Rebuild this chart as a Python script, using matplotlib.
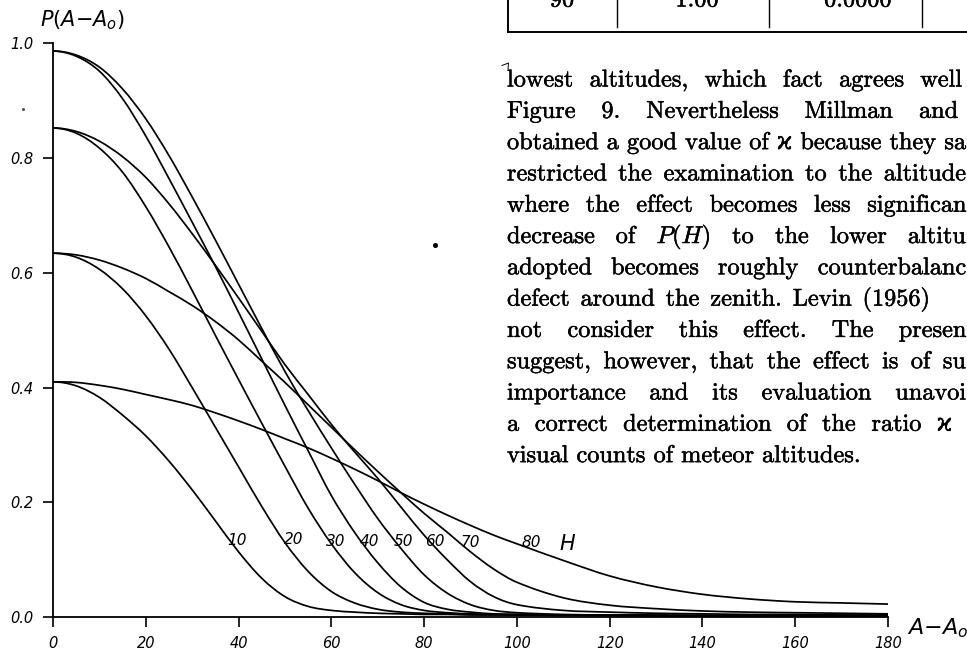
import matplotlib
matplotlib.use("Agg")
import matplotlib.pyplot as plt
import matplotlib.patheffects as pe
from matplotlib.lines import Line2D
from matplotlib.path import Path
from matplotlib.patches import PathPatch

# ---------------------------------------------------------------
# Data: P(A - A0) against azimuth difference, one curve per height H
# ---------------------------------------------------------------

azimuth = [0, 5, 10, 15, 20, 25, 30, 35, 40, 45, 50, 55, 60, 65, 70, 75,
           80, 85, 90, 95, 100, 110, 120, 130, 140, 150, 160, 170, 180]

p_h10 = [0.410, 0.403, 0.383, 0.352, 0.316, 0.272, 0.222, 0.168, 0.114, 0.068,
         0.036, 0.019, 0.012, 0.009, 0.007, 0.006, 0.005, 0.005, 0.004, 0.004,
         0.004, 0.003, 0.003, 0.003, 0.002, 0.002, 0.002, 0.002, 0.002]
p_h20 = [0.634, 0.627, 0.606, 0.572, 0.525, 0.467, 0.400, 0.331, 0.262, 0.193,
         0.130, 0.080, 0.045, 0.025, 0.014, 0.009, 0.007, 0.006, 0.005, 0.005,
         0.004, 0.004, 0.003, 0.003, 0.003, 0.002, 0.002, 0.002, 0.002]
p_h30 = [0.852, 0.843, 0.817, 0.775, 0.715, 0.645, 0.569, 0.491, 0.414, 0.338,
         0.263, 0.190, 0.128, 0.078, 0.043, 0.022, 0.012, 0.008, 0.006, 0.005,
         0.005, 0.004, 0.004, 0.003, 0.003, 0.003, 0.003, 0.003, 0.003]
p_h40 = [0.986, 0.977, 0.951, 0.903, 0.838, 0.764, 0.688, 0.611, 0.531, 0.450,
         0.369, 0.290, 0.212, 0.148, 0.095, 0.053, 0.026, 0.014, 0.009, 0.006,
         0.005, 0.004, 0.004, 0.003, 0.003, 0.003, 0.003, 0.003, 0.003]
p_h50 = [0.986, 0.979, 0.958, 0.920, 0.868, 0.804, 0.732, 0.657, 0.580, 0.503,
         0.428, 0.360, 0.295, 0.232, 0.172, 0.120, 0.074, 0.042, 0.022, 0.012,
         0.008, 0.005, 0.004, 0.004, 0.003, 0.003, 0.003, 0.003, 0.003]
p_h60 = [0.852, 0.846, 0.829, 0.802, 0.766, 0.720, 0.668, 0.613, 0.556, 0.498,
         0.440, 0.388, 0.336, 0.288, 0.242, 0.192, 0.143, 0.100, 0.062, 0.036,
         0.022, 0.012, 0.009, 0.007, 0.006, 0.005, 0.005, 0.004, 0.004]
p_h70 = [0.634, 0.631, 0.622, 0.608, 0.590, 0.567, 0.543, 0.515, 0.483, 0.446,
         0.409, 0.370, 0.331, 0.292, 0.254, 0.217, 0.181, 0.148, 0.114, 0.084,
         0.061, 0.034, 0.021, 0.015, 0.011, 0.009, 0.008, 0.007, 0.006]
p_h80 = [0.410, 0.409, 0.404, 0.397, 0.388, 0.379, 0.369, 0.356, 0.342, 0.327,
         0.311, 0.295, 0.277, 0.258, 0.238, 0.217, 0.197, 0.178, 0.160, 0.143,
         0.128, 0.099, 0.072, 0.053, 0.040, 0.032, 0.027, 0.025, 0.023]

curves = [p_h10, p_h20, p_h30, p_h40, p_h50, p_h60, p_h70, p_h80]
height_labels = ["10", "20", "30", "40", "50", "60", "70", "80"]

x_ticks = [0, 20, 40, 60, 80, 100, 120, 140, 160, 180]
y_ticks = [0.0, 0.2, 0.4, 0.6, 0.8, 1.0]

# where the height numbers sit next to their curves (data coords)
label_x = [39.6, 51.8, 60.9, 68.3, 75.6, 82.3, 90.0, 103.1]
label_y = [0.134, 0.135, 0.132, 0.132, 0.132, 0.132, 0.131, 0.130]

# running text of the page, one entry per printed line (as far as the page shows)
page_lines = [
    "lowest altitudes, which fact agrees well",
    "Figure 9. Nevertheless Millman and",
    "obtained a good value of ϰ because they sa",
    "restricted the examination to the altitude",
    "where the effect becomes less significan",
    "decrease of $P(H)$ to the lower altitu",
    "adopted becomes roughly counterbalanc",
    "defect around the zenith. Levin (1956)",
    "not consider this effect. The presen",
    "suggest, however, that the effect is of su",
    "importance and its evaluation unavoi",
    "a correct determination of the ratio ϰ",
    "visual counts of meteor altitudes.",
]
# right end (pixels) of the last word on each justified line
line_end_px = [962, 958, 966, 966, 966, 966, 966, 930, 966, 966, 966, 952, None]

table_cells = ["90", "1.00", "0.0000"]

# ---------------------------------------------------------------
# Figure
# ---------------------------------------------------------------

W, H = 967, 655
DPI = 100
SERIF = ["cmr10", "DejaVu Serif", "DejaVu Sans"]
TEXT_SIZE = 17.5
INK = [pe.withStroke(linewidth=0.35, foreground="black")]


def fx(px):
    return px / W


def fy(py):
    return 1 - py / H


def smooth_path(xs, ys):
    """Cubic Bezier path through the points (Hermite tangents)."""
    n = len(xs)
    slopes = []
    for i in range(n):
        if i == 0:
            slopes.append(0.0)
        elif i == n - 1:
            slopes.append((ys[i] - ys[i - 1]) / (xs[i] - xs[i - 1]))
        else:
            slopes.append((ys[i + 1] - ys[i - 1]) / (xs[i + 1] - xs[i - 1]))
    verts = [(xs[0], ys[0])]
    codes = [Path.MOVETO]
    for i in range(n - 1):
        h = (xs[i + 1] - xs[i]) / 3
        verts += [(xs[i] + h, ys[i] + slopes[i] * h),
                  (xs[i + 1] - h, ys[i + 1] - slopes[i + 1] * h),
                  (xs[i + 1], ys[i + 1])]
        codes += [Path.CURVE4] * 3
    return Path(verts, codes)


fig = plt.figure(figsize=(W / DPI, H / DPI), dpi=DPI)
ax = fig.add_axes([fx(53), fy(617.3), 835 / W, 574.3 / H])

for p in curves:
    ax.add_patch(PathPatch(smooth_path(azimuth, p), fill=False,
                           edgecolor="black", lw=1.25, clip_on=False))

for lab, lx, ly in zip(height_labels, label_x, label_y):
    ax.text(lx, ly, lab, fontsize=11, fontstyle="italic",
            ha="center", va="center")
ax.text(110.9, 0.127, "H", fontsize=15, fontstyle="italic",
        ha="center", va="center")

ax.set_xlim(0, 180)
ax.set_ylim(0, 1)
ax.set_xticks(x_ticks)
ax.set_xticklabels([str(t) for t in x_ticks], fontstyle="italic", fontsize=10.5)
ax.set_yticks(y_ticks)
ax.set_yticklabels([f"{t:.1f}" for t in y_ticks], fontstyle="italic",
                   fontsize=10.5)
ax.tick_params(axis="both", direction="out", length=7.2, width=1.2)
ax.tick_params(axis="x", pad=6.5)
ax.tick_params(axis="y", pad=7)
for side in ["top", "right"]:
    ax.spines[side].set_visible(False)
for side in ["left", "bottom"]:
    ax.spines[side].set_linewidth(1.3)

fig.text(fx(40), fy(20), r"$P(A{-}A_o)$", fontsize=15,
         math_fontfamily="dejavusans", ha="left", va="center")
fig.text(fx(907), fy(628), r"$A{-}A_o$", fontsize=16,
         math_fontfamily="dejavusans", ha="left", va="center")

# ---------------------------------------------------------------
# Page text to the right of the figure
# ---------------------------------------------------------------

renderer = fig.canvas.get_renderer()
space_px = 0.333 * TEXT_SIZE * DPI / 72


def place_line(line, left_px, end_px, base_px):
    words = line.split(" ")
    texts = [fig.text(0, fy(base_px), w, fontsize=TEXT_SIZE, family=SERIF,
                      math_fontfamily="cm", ha="left", va="baseline",
                      path_effects=INK)
             for w in words]
    widths = [t.get_window_extent(renderer).width for t in texts]
    if end_px is None or len(words) < 2:
        gap = space_px
    else:
        gap = (end_px - left_px - sum(widths)) / (len(words) - 1)
    x = left_px
    for t, w in zip(texts, widths):
        t.set_x(fx(x))
        x += w + gap


for i, (line, end_px) in enumerate(zip(page_lines, line_end_px)):
    place_line(line, 507, end_px, 86.5 + 31.3 * i)

# bottom row of the table above the text
rule = dict(transform=fig.transFigure, color="black", lw=1.4)
fig.add_artist(Line2D([fx(507.6), fx(967)], [fy(31.7), fy(31.7)], **rule))
fig.add_artist(Line2D([fx(507.6), fx(507.6)], [fy(0), fy(31.7)], **rule))
for vx in [616.6, 769, 922]:
    fig.add_artist(Line2D([fx(vx), fx(vx)], [fy(0), fy(27)],
                          transform=fig.transFigure, color="black", lw=1.0))
for cell, cx in zip(table_cells, [562, 697, 858]):
    fig.text(fx(cx), fy(6.5), cell, fontsize=TEXT_SIZE, family=SERIF,
             ha="center", va="baseline", path_effects=INK)

# small marks on the page
fig.add_artist(Line2D([fx(502), fx(508.5), fx(508)], [fy(65.5), fy(63), fy(69)],
                      transform=fig.transFigure, color="black", lw=0.7))
fig.add_artist(Line2D([fx(435)], [fy(245)], transform=fig.transFigure,
                      marker="o", ms=2.6, color="black", lw=0))
fig.add_artist(Line2D([fx(22.7)], [fy(109)], transform=fig.transFigure,
                      marker="o", ms=1.2, color="#555555", lw=0))

fig.savefig("out.png", dpi=DPI)
